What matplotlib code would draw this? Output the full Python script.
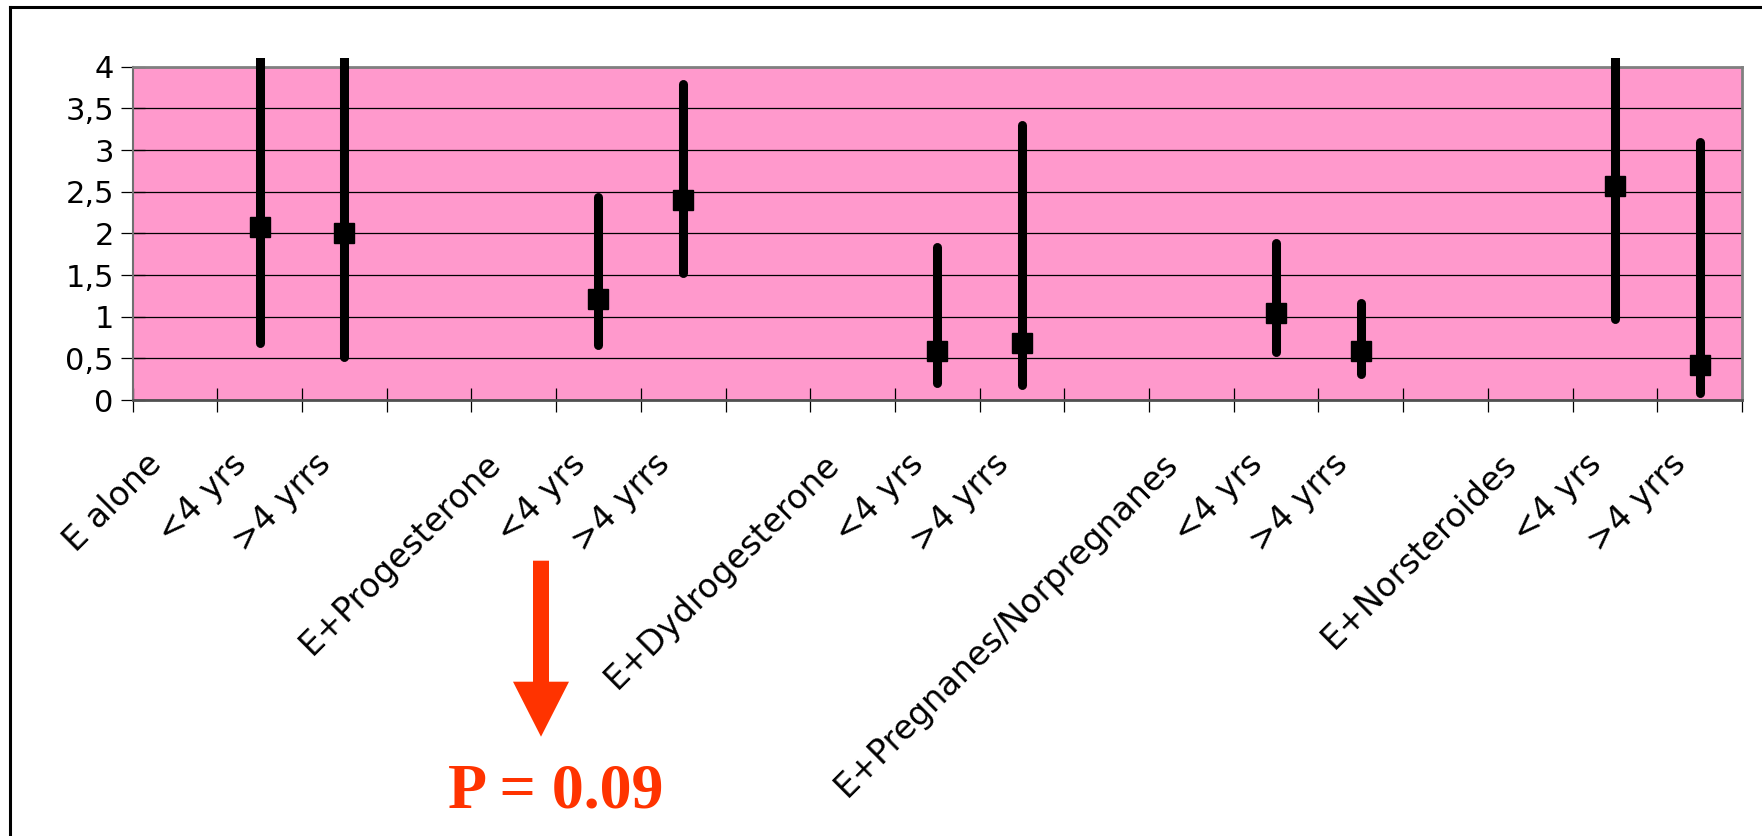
import matplotlib
matplotlib.use("Agg")
import matplotlib.pyplot as plt
import numpy as np
from matplotlib.patches import Rectangle, Polygon
from matplotlib.lines import Line2D
from matplotlib.transforms import ScaledTranslation

# ---- data ----
categories = ["E alone", "<4 yrs", ">4 yrrs", "",
              "E+Progesterone", "<4 yrs", ">4 yrrs", "",
              "E+Dydrogesterone", "<4 yrs", ">4 yrrs", "",
              "E+Pregnanes/Norpregnanes", "<4 yrs", ">4 yrrs", "",
              "E+Norsteroides", "<4 yrs", ">4 yrrs"]
point_index = [1, 2, 5, 6, 9, 10, 13, 14, 17, 18]
rr_values = [2.08, 2.01, 1.21, 2.40, 0.59, 0.69, 1.04, 0.59, 2.57, 0.42]
ci_low = [0.69, 0.52, 0.66, 1.53, 0.21, 0.18, 0.58, 0.31, 0.97, 0.09]
ci_high = [4.6, 4.6, 2.44, 3.79, 1.84, 3.30, 1.89, 1.16, 4.6, 3.10]
y_ticks = [0, 0.5, 1, 1.5, 2, 2.5, 3, 3.5, 4]
y_tick_labels = ["0", "0,5", "1", "1,5", "2", "2,5", "3", "3,5", "4"]
p_text = "P = 0.09"

W, H = 1762, 836
fig = plt.figure(figsize=(W / 100, H / 100), dpi=100)
fig.patch.set_facecolor("white")

ax = fig.add_axes([132.6 / W, 1 - 400 / H, (1742 - 132.6) / W, (400 - 66.7) / H])
ax.set_facecolor("#FF99CC")
ax.set_xlim(0, len(categories))
ax.set_ylim(0, 4)

# gridlines
ax.set_yticks(y_ticks)
ax.set_yticklabels(y_tick_labels, fontsize=22, family="DejaVu Sans")
ax.yaxis.grid(True, color="black", linewidth=0.9)
ax.set_axisbelow(True)

# spines
for s in ["top", "right"]:
    ax.spines[s].set_color("#808080")
    ax.spines[s].set_linewidth(2)
ax.spines["left"].set_color("#707070")
ax.spines["left"].set_linewidth(1.5)
ax.spines["bottom"].set_color("#505050")
ax.spines["bottom"].set_linewidth(2)

ax.tick_params(axis="y", direction="inout", length=17, width=0.9, pad=5, colors="black")
ax.set_xticks(np.arange(0, len(categories) + 1))
ax.set_xticklabels([])
ax.tick_params(axis="x", which="major", direction="inout", length=17, width=0.9)
xpos = np.arange(len(categories)) + 0.5
ax.set_xticks(xpos, minor=True)
ax.set_xticklabels(categories, minor=True, rotation=45, ha="right", va="top",
                   rotation_mode="anchor", fontsize=24, family="DejaVu Sans")
ax.tick_params(axis="x", which="minor", length=0, pad=34)
off = ScaledTranslation(-30 / 100, 0, fig.dpi_scale_trans)
for lab in ax.get_xticklabels(minor=True):
    lab.set_transform(lab.get_transform() + off)

# error bars and markers
px = [xpos[i] for i in point_index]
vl = ax.vlines(px, ci_low, ci_high, colors="black", linewidth=6.5,
               capstyle="round", zorder=3)
clip_rect = Rectangle((0, -0.5), len(categories), 4.6, transform=ax.transData)
vl.set_clip_on(True)
vl.set_clip_box(None)
vl.set_clip_path(clip_rect)
ax.plot(px, rr_values, linestyle="none", marker="s", markersize=14.2,
        color="black", clip_on=False, zorder=4)

# frame lines (figure border)
fig.add_artist(Line2D([10 / W, 10 / W], [0, 1 - 7 / H], color="black", linewidth=2.2,
                      transform=fig.transFigure))
fig.add_artist(Line2D([10 / W, 1], [1 - 7 / H, 1 - 7 / H], color="black", linewidth=2.2,
                      transform=fig.transFigure))

# red arrow
red = "#FF3300"
arrow_pts = [(533, 560.7), (549, 560.7), (549, 681.7), (569, 681.7), (541, 736.7),
             (513, 681.7), (533, 681.7)]
arrow = Polygon([(x / W, 1 - y / H) for x, y in arrow_pts], closed=True,
                facecolor=red, edgecolor="none", transform=fig.transFigure)
fig.add_artist(arrow)

fig.text(556 / W, 1 - 808 / H, p_text, color=red, fontsize=46, fontweight="bold",
         family="Liberation Serif", ha="center", va="baseline")

fig.savefig("out.png", dpi=100, facecolor="white")
